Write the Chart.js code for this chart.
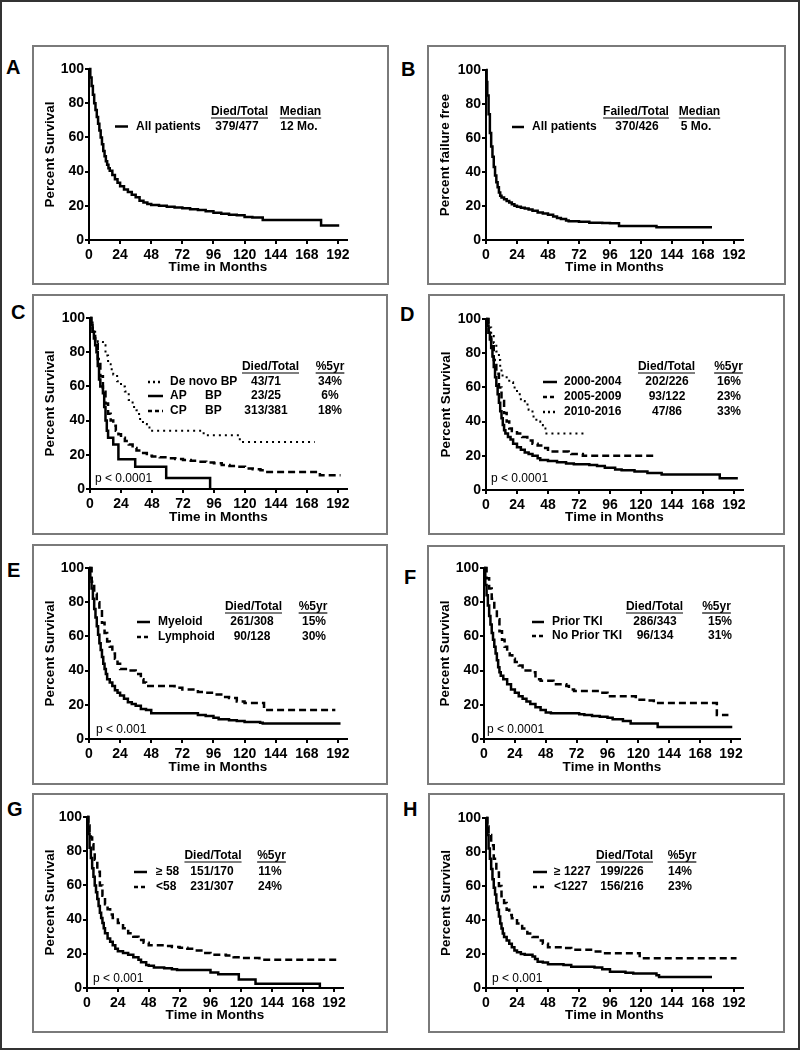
<!DOCTYPE html>
<html>
<head>
<meta charset="utf-8">
<script src="https://cdn.jsdelivr.net/npm/chart.js@4.4.1/dist/chart.umd.min.js"></script>
<style>
  body { margin: 0; background: #fff; }
  #fig { position: relative; width: 800px; height: 1050px; overflow: hidden; }
  #frame { position: absolute; left: 0; top: 0; width: 800px; height: 1050px; box-sizing: border-box; border: 2px solid #333; }
  .box { position: absolute; box-sizing: border-box; border: 2px solid #7a7a7a; }
  canvas { position: absolute; }
  .letter { position: absolute; font: bold 20px/20px 'Liberation Sans', Arial, sans-serif; color: #000; }
</style>
</head>
<body>
<div id="fig"><div id="frame"></div></div>
<script>
// axis ticks
const monthTicks = [0, 24, 48, 72, 96, 120, 144, 168, 192];
const pctTicks = [0, 20, 40, 60, 80, 100];

// Kaplan-Meier curves: [month, percent]
const osAll = [[0,100],[1,95],[2,90],[3,85],[4,80],[5,76],[6,72],[7,68],[8,64],[9,60],[10,56],[11,52],[12,49],[13,46],[14,44],[15,42],[16,40.5],[18,38],[20,35.5],[22,33.5],[24,31.5],[27,29.5],[30,28],[33,26.5],[36,25],[39,23],[42,22],[45,21],[48,20.5],[54,20],[60,19.5],[66,19],[72,18.5],[78,18],[84,17.5],[90,16.8],[96,16],[102,15.3],[108,14.8],[114,14.5],[120,13.5],[126,13.2],[134,11.7],[179,8.5],[193,8.5]];
const ffsAll = [[0,100],[0.5,93],[1,85],[2,74],[3,63],[4,55],[5,49],[6,43],[7,38],[8,34],[9,31],[10,28],[11,26],[12,25],[14,24],[16,23],[18,22],[20,21],[22,20.2],[24,19.5],[27,19],[30,18.5],[33,18],[36,17.2],[40,16.2],[44,15.6],[48,14.8],[52,13.8],[55,13],[58,12.3],[62,11.5],[64,11],[72,10.8],[80,10.2],[90,10],[96,9.8],[103,8.3],[132,7.5],[175,7.5]];

const cDeNovo = [[0,100],[2,94],[4,88],[6,86],[10,84],[12,78],[14,73],[16,70],[18,67],[21,63],[24,60],[27,57],[30,52],[33,48],[36,46],[38,41],[41,38],[44,36],[46,34],[88,31.5],[116,27.5],[174,27.5]];
const cAP = [[0,100],[1,96],[2,92],[3,88],[4,84],[5,80],[6,72],[7,64],[8,60],[10,56],[11,48],[12,40],[13,34],[14,30],[18,26],[22,17.4],[35,13],[59,6.5],[93,0]];
const cCP = [[0,100],[1,96],[2,92],[4,85],[6,76],[8,66],[10,58],[12,50],[14,44],[16,40],[18,37],[20,34],[22,32],[24,30],[27,28],[30,26],[33,24],[36,22.5],[40,21],[44,19.5],[48,19],[54,18.5],[60,18],[66,17.5],[72,17],[78,16.5],[84,16],[90,15.5],[96,15],[102,14],[108,13.5],[114,13],[120,12],[126,11.5],[132,11],[135,10],[178,8],[194,8]];

const d2000 = [[0,100],[1,96],[2,92],[3,88],[4,83],[5,78],[6,72],[7,66],[8,61],[9,56],[10,51],[11,46],[12,42],[13,38],[14,35],[15,33],[17,31],[19,29.5],[21,27],[24,25],[27,23.5],[30,22],[33,21],[36,20],[40,18.5],[42,17.6],[48,17],[55,16.2],[62,15.5],[68,15],[80,14.6],[86,14],[92,13],[100,12],[105,11.5],[115,10.8],[125,10],[136,9],[181,6.8],[195,6.8]];
const d2005 = [[0,100],[2,92],[4,84],[6,76],[8,68],[10,60],[12,52],[14,45],[16,40],[18,36],[20,34.5],[24,33],[28,31],[32,29],[36,27],[40,26],[44,24.5],[48,22.5],[64,22],[66,21],[75,20],[132,20]];
const d2010 = [[0,100],[2,95],[4,90],[6,86],[8,81],[10,76],[11,72],[12,67],[16,65],[18,63],[21,60],[24,56],[27,52],[30,50],[33,47],[36,43],[39,40],[42,38],[44,36],[46,33],[76,33]];

const eMyeloid = [[0,100],[1,94],[2,88],[3,82],[4,76],[5,71],[6,66],[7,61],[8,56],[9,52],[10,48],[11,44],[12,41],[13,38],[14,35],[16,33],[18,31],[20,28.5],[22,27],[24,25.5],[27,23.5],[30,21.5],[33,20.5],[36,19.5],[40,17.5],[44,17],[48,15],[84,14],[90,13.5],[96,12.5],[100,11.5],[108,11],[114,10.5],[120,10],[132,9.5],[134,9],[194,9]];
const eLymphoid = [[0,100],[2,92],[4,85],[6,80],[8,76],[10,68],[12,62],[14,57],[16,54],[18,50],[20,47],[22,44],[24,41],[30,40],[36,38],[40,35],[42,33],[44,31],[60,31],[66,30],[72,29],[84,27.5],[90,27],[96,26],[102,24.5],[108,24],[114,22],[120,21],[135,17],[190,17]];

const fPriorTki = [[0,100],[1,90],[2,84],[3,78],[4,72],[5,67],[6,62],[7,58],[8,54],[9,50],[10,46],[11,42],[12,39],[13,37],[15,35],[18,32],[21,29],[24,27],[27,25],[30,23.5],[33,22],[36,20.5],[40,18.5],[44,17],[48,15.5],[52,15],[74,14.5],[78,14],[84,13.5],[90,13],[96,12.5],[100,11.5],[108,10.5],[114,9],[135,7],[193,7]];
const fNoPriorTki = [[0,100],[2,94],[4,88],[6,82],[8,76],[10,70],[12,63],[14,58],[16,54],[18,51],[20,49],[22,47],[24,45],[27,43],[30,40],[36,39],[40,35],[44,34],[54,32],[64,31],[66,29],[70,28],[90,27],[96,25],[118,23],[126,22.5],[132,21],[181,14],[190,14]];

const gAge58Up = [[0,100],[1,90],[2,82],[3,76],[4,70],[5,65],[6,60],[7,56],[8,52],[9,48],[10,44],[11,41],[12,38],[13,35],[14,32],[16,29],[18,27],[20,25],[22,23],[24,21.5],[28,20.5],[32,19.5],[36,18],[40,16.5],[42,15],[46,13.5],[48,13],[52,12],[60,11.5],[66,11],[70,10.5],[96,9],[102,8],[118,5],[131,2.5],[181,0]];
const gAgeUnder58 = [[0,100],[1,95],[2,91],[3,88],[4,84],[5,80],[6,75],[8,68],[10,60],[12,54],[14,49],[16,46],[18,43],[20,41],[24,38],[28,35],[32,32],[36,30],[40,28],[44,26.5],[48,25],[60,24.5],[66,24],[72,23.5],[78,23],[84,22],[90,20.5],[96,19.5],[108,19],[114,18],[120,17.5],[134,16.5],[194,16.5]];

const hLdhHigh = [[0,100],[1,90],[2,82],[3,76],[4,70],[5,64],[6,59],[7,55],[8,50],[9,46],[10,42],[11,38],[12,35],[13,32],[14,30],[16,28],[18,26],[20,24],[22,22],[24,21],[27,20],[30,19.5],[36,18.5],[38,17],[40,15.5],[44,15],[48,14],[60,13.5],[66,12.5],[84,12],[90,11],[96,9.5],[108,9],[114,8.5],[132,7.5],[134,6.5],[175,6.5]];
const hLdhLow = [[0,100],[1,95],[2,90],[4,84],[6,76],[8,68],[10,60],[12,54],[14,50],[16,46],[18,43],[20,41],[24,38],[28,35],[32,32],[36,30],[40,28],[44,26],[48,24],[60,23.5],[66,22.5],[84,21.5],[90,20.5],[119,17.5],[194,17.5]];

// legend tables
const headOS = ['Died/Total', 'Median'];
const headFFS = ['Failed/Total', 'Median'];
const head5yr = ['Died/Total', '%5yr'];
const rowsA = [['All patients', '379/477', '12 Mo.']];
const rowsB = [['All patients', '370/426', '5 Mo.']];
const rowsC = [['De novo BP', '43/71', '34%'], ['AP|BP', '23/25', '6%'], ['CP|BP', '313/381', '18%']];
const rowsD = [['2000-2004', '202/226', '16%'], ['2005-2009', '93/122', '23%'], ['2010-2016', '47/86', '33%']];
const rowsE = [['Myeloid', '261/308', '15%'], ['Lymphoid', '90/128', '30%']];
const rowsF = [['Prior TKI', '286/343', '15%'], ['No Prior TKI', '96/134', '31%']];
const rowsG = [['\u2265 58', '151/170', '11%'], ['<58', '231/307', '24%']];
const rowsH = [['\u2265 1227', '199/226', '14%'], ['<1227', '156/216', '23%']];

const FONT = "'Liberation Sans', Arial, sans-serif";
const SOLID = { dash: [], sample: [], w: 2.5 };
const DASHED = { dash: [7, 4], sample: [4, 3], w: 2.5 };
const DOTTED = { dash: [2, 4], sample: [2, 3], w: 2 };

const panels = [
  { id: 'A', box: [32,45,389,285], area: [89,69,347,240], letter: [7,60], yTitle: 'Percent Survival',
    series: [[osAll, SOLID]], head: headOS, rows: rowsA,
    lg: { headY: 112, headX: [239.5,300.5], rowY: [126.5], sampleX: [115,128], nameX: 136, countX: 237, statX: 299 } },
  { id: 'B', box: [427,45,786,285], area: [486,70,743,240], letter: [402,62], yTitle: 'Percent failure free',
    series: [[ffsAll, SOLID]], head: headFFS, rows: rowsB,
    lg: { headY: 112, headX: [636,699.5], rowY: [127], sampleX: [512,524], nameX: 532, countX: 637, statX: 696 } },
  { id: 'C', box: [32,294,388,535], area: [90,318,347,489], letter: [12,305], yTitle: 'Percent Survival',
    series: [[cDeNovo, DOTTED], [cAP, SOLID], [cCP, DASHED]], head: head5yr, rows: rowsC, p: 'p < 0.0001',
    lg: { headY: 367, headX: [270.5,330], rowY: [382,396,411], sampleX: [148,163], nameX: 170, subX: 205, countX: 266, statX: 330, pX: 95, pY: 479 } },
  { id: 'D', box: [428,294,785,535], area: [486,319,743,490], letter: [401,307], yTitle: 'Percent Survival',
    series: [[d2000, SOLID], [d2005, DASHED], [d2010, DOTTED]], head: head5yr, rows: rowsD, p: 'p < 0.0001',
    lg: { headY: 367, headX: [666.5,728.5], rowY: [382,397,412], sampleX: [543,557], nameX: 564, countX: 667, statX: 729, pX: 491, pY: 479 } },
  { id: 'E', box: [32,544,388,785], area: [89,568,347,739], letter: [8,563], yTitle: 'Percent Survival',
    series: [[eMyeloid, SOLID], [eLymphoid, DASHED]], head: head5yr, rows: rowsE, p: 'p < 0.001',
    lg: { headY: 607, headX: [253.5,313], rowY: [622,637], sampleX: [137,150], nameX: 158, countX: 252, statX: 314, pX: 96, pY: 730 } },
  { id: 'F', box: [427,545,785,785], area: [484,568,740,739], letter: [405,570], yTitle: 'Percent Survival',
    series: [[fPriorTki, SOLID], [fNoPriorTki, DASHED]], head: head5yr, rows: rowsF, p: 'p < 0.0001',
    lg: { headY: 607, headX: [654.5,716.5], rowY: [622,636], sampleX: [532,544], nameX: 552, countX: 655, statX: 720, pX: 487, pY: 730 } },
  { id: 'G', box: [32,793,388,1033], area: [87,817,343,988], letter: [8,802], yTitle: 'Percent Survival',
    series: [[gAge58Up, SOLID], [gAgeUnder58, DASHED]], head: head5yr, rows: rowsG, p: 'p < 0.001',
    lg: { headY: 856, headX: [213,271.5], rowY: [872,887], sampleX: [134,147], nameX: 156, countX: 212, statX: 270, pX: 93, pY: 979 } },
  { id: 'H', box: [428,793,785,1033], area: [486,818,743,988], letter: [404,802], yTitle: 'Percent Survival',
    series: [[hLdhHigh, SOLID], [hLdhLow, DASHED]], head: head5yr, rows: rowsH, p: 'p < 0.001',
    lg: { headY: 856, headX: [624.5,682], rowY: [872,887], sampleX: [533,547], nameX: 554, countX: 622, statX: 680, pX: 492, pY: 979 } }
];

// draws the little Died/Total table, line samples and p value
const kmLegend = {
  id: 'kmLegend',
  afterDraw(chart, args, o) {
    const ctx = chart.ctx, ox = o.box[0], oy = o.box[1], lg = o.lg;
    ctx.save();
    ctx.fillStyle = '#000';
    ctx.strokeStyle = '#000';
    ctx.textBaseline = 'middle';
    ctx.font = 'bold 12px ' + FONT;
    o.head.forEach((h, i) => {
      const cx = lg.headX[i] - ox, y = lg.headY - oy;
      ctx.textAlign = 'center';
      ctx.fillText(h, cx, y);
      const w = ctx.measureText(h).width;
      ctx.lineWidth = 1.2;
      ctx.beginPath();
      ctx.moveTo(cx - w / 2, y + 6);
      ctx.lineTo(cx + w / 2, y + 6);
      ctx.stroke();
    });
    o.rows.forEach((r, i) => {
      const y = lg.rowY[i] - oy, st = o.styles[i];
      ctx.lineWidth = 2.5;
      ctx.setLineDash(st.sample);
      ctx.beginPath();
      ctx.moveTo(lg.sampleX[0] - ox, y);
      ctx.lineTo(lg.sampleX[1] - ox, y);
      ctx.stroke();
      ctx.setLineDash([]);
      const parts = r[0].split('|');
      ctx.textAlign = 'left';
      ctx.fillText(parts[0], lg.nameX - ox, y);
      if (parts[1]) ctx.fillText(parts[1], lg.subX - ox, y);
      ctx.textAlign = 'center';
      ctx.fillText(r[1], lg.countX - ox, y);
      ctx.fillText(r[2], lg.statX - ox, y);
    });
    if (o.p) {
      ctx.font = '12px ' + FONT;
      ctx.textAlign = 'left';
      ctx.fillText(o.p, lg.pX - ox, lg.pY - oy);
    }
    ctx.restore();
  }
};

Chart.defaults.font.family = FONT;
Chart.defaults.color = '#000';

const fig = document.getElementById('fig');

panels.forEach(p => {
  const [bl, bt, br, bb] = p.box;
  const [al, at, ar, ab] = p.area;

  const box = document.createElement('div');
  box.className = 'box';
  Object.assign(box.style, { left: bl + 'px', top: bt + 'px', width: (br - bl) + 'px', height: (bb - bt) + 'px' });
  fig.appendChild(box);

  const letter = document.createElement('div');
  letter.className = 'letter';
  letter.textContent = p.id;
  Object.assign(letter.style, { left: (p.letter[0] - 1) + 'px', top: (p.letter[1] - 3) + 'px' });
  fig.appendChild(letter);

  const cv = document.createElement('canvas');
  cv.width = br - bl;
  cv.height = bb - bt;
  Object.assign(cv.style, { left: bl + 'px', top: bt + 'px', width: (br - bl) + 'px', height: (bb - bt) + 'px' });
  fig.appendChild(cv);

  const axisGrid = { display: true, drawOnChartArea: false, drawTicks: true, tickLength: 4, color: '#000', lineWidth: 2 };
  const axisBorder = { display: true, color: '#000', width: 2 };
  const tickFont = { size: 14, weight: 'bold' };
  const titleFont = { size: 13.5, weight: 'bold' };

  new Chart(cv.getContext('2d'), {
    type: 'line',
    data: {
      datasets: p.series.map(([pts, st]) => ({
        data: pts.map(([x, y]) => ({ x, y })),
        borderColor: '#000',
        borderWidth: st.w,
        borderDash: st.dash,
        stepped: true,
        pointRadius: 0,
        fill: false,
        clip: 6
      }))
    },
    options: {
      responsive: false,
      animation: false,
      devicePixelRatio: 1,
      layout: { padding: { left: 0, top: at - bt, right: br - ar, bottom: 0 } },
      plugins: {
        legend: { display: false },
        tooltip: { enabled: false },
        kmLegend: { box: p.box, lg: p.lg, head: p.head, rows: p.rows, p: p.p, styles: p.series.map(s => s[1]) }
      },
      scales: {
        x: {
          type: 'linear', min: 0, max: 199,
          grid: axisGrid, border: axisBorder,
          afterBuildTicks: s => { s.ticks = monthTicks.map(v => ({ value: v })); },
          afterFit: s => { s.height = bb - ab; },
          ticks: { font: tickFont, padding: 3, maxRotation: 0, autoSkip: false },
          title: { display: true, text: 'Time in Months', font: titleFont, padding: { top: 0, bottom: 10 } }
        },
        y: {
          type: 'linear', min: 0, max: 100,
          grid: axisGrid, border: axisBorder,
          afterBuildTicks: s => { s.ticks = pctTicks.map(v => ({ value: v })); },
          afterFit: s => { s.width = al - bl; },
          ticks: { font: tickFont, padding: 1 },
          title: { display: true, text: p.yTitle, font: titleFont, padding: { top: 10, bottom: 0 } }
        }
      }
    },
    plugins: [kmLegend]
  });
});
</script>
</body>
</html>
